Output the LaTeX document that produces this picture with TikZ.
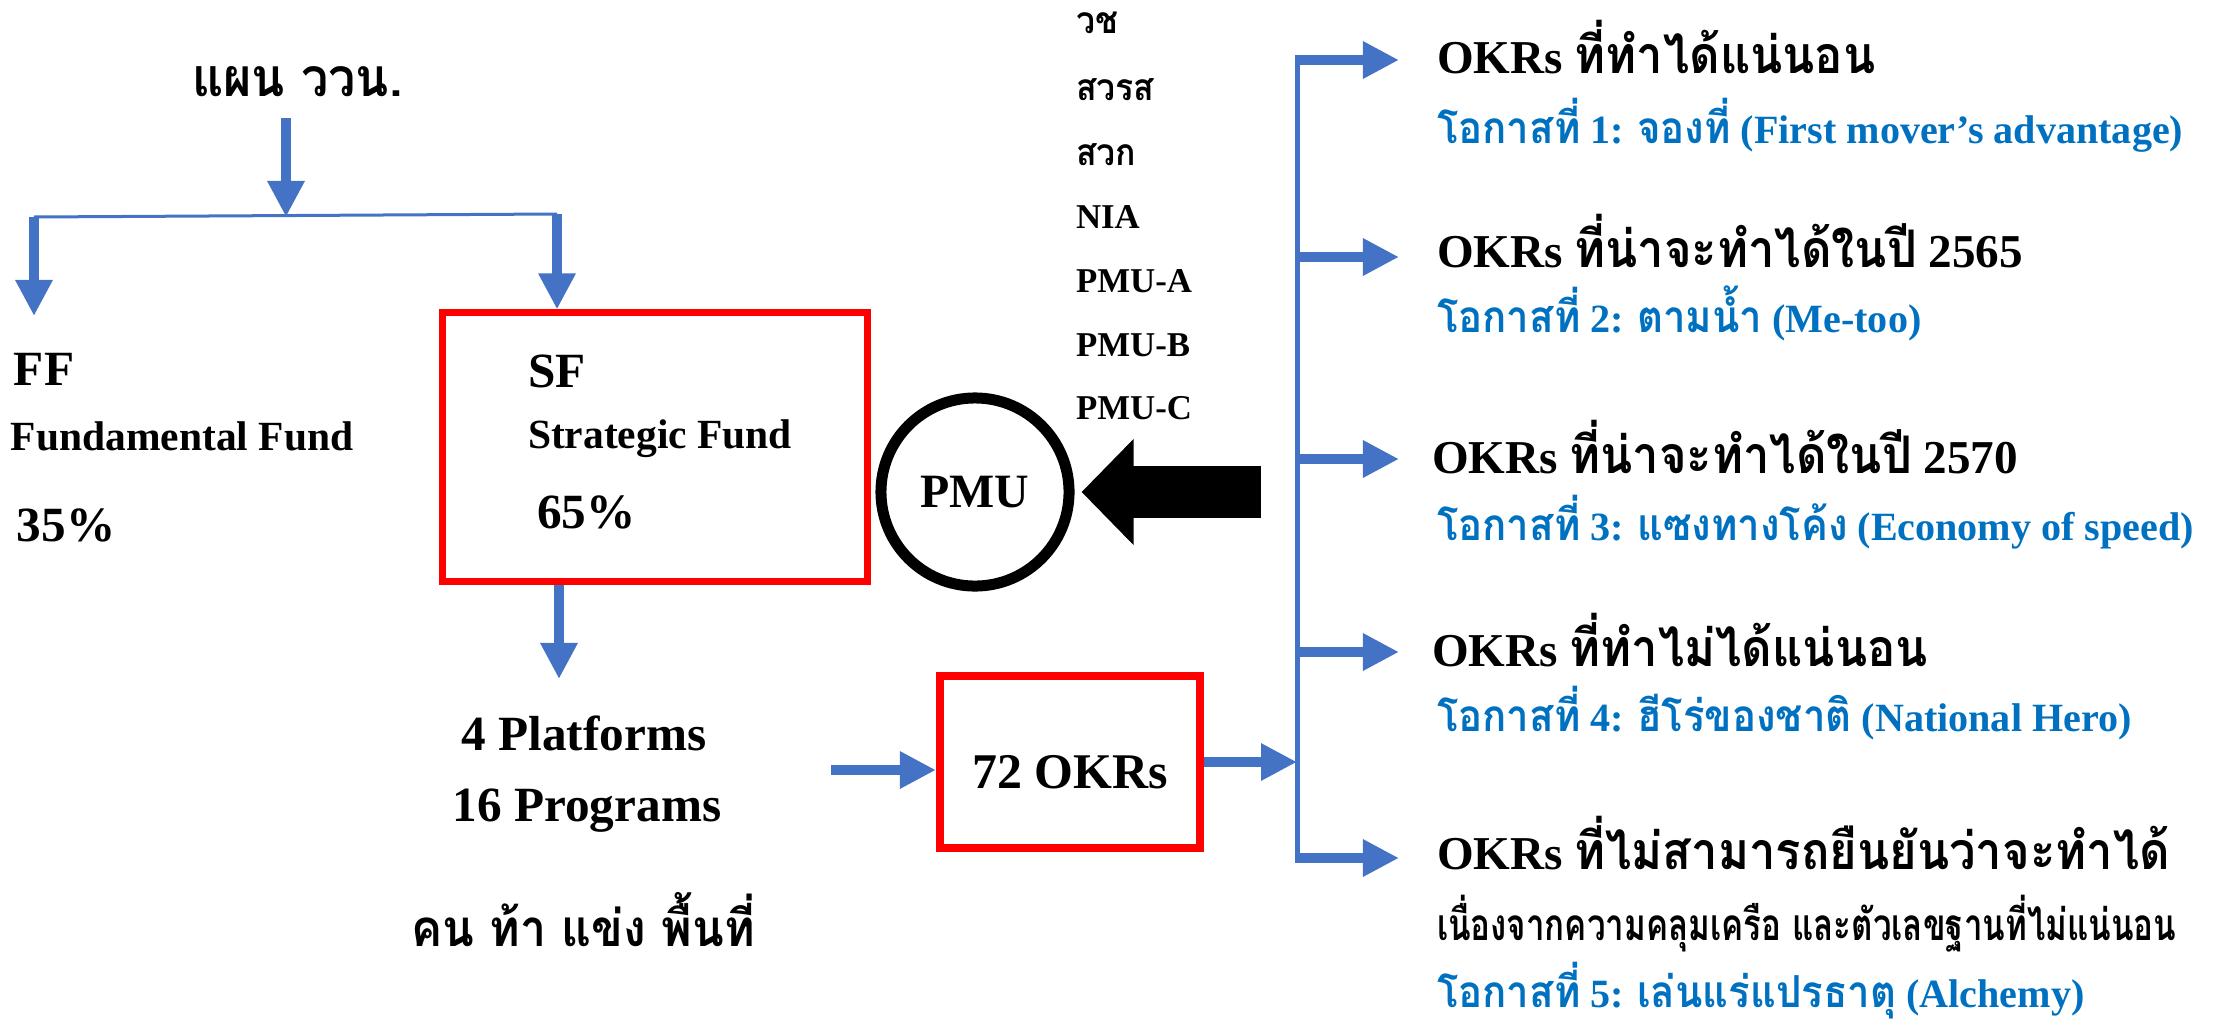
\documentclass[tikz,border=0pt]{standalone}
\usepackage{fontspec}
\setmainfont{Liberation Serif}
\newfontfamily\thaifont[Script=Thai,Scale=1.1,FakeStretch=0.91]{Loma}
\newfontfamily\thaicond[Script=Thai,Scale=1.1,FakeStretch=0.75]{Loma}
\usetikzlibrary{arrows.meta}
\definecolor{okblue}{HTML}{4472C4}
\definecolor{subblue}{HTML}{0070C0}
\definecolor{boxred}{HTML}{FF0000}
\newcommand\thx[1]{{\thaifont #1}}

\begin{document}
\begin{tikzpicture}[x=0.01cm,y=-0.01cm,
    ttl/.style={font=\fontsize{13.4}{16}\selectfont\bfseries},
    sub/.style={font=\fontsize{11.4}{14}\selectfont\bfseries,text=subblue},
    lbl/.style={font=\fontsize{9.9}{12}\selectfont\bfseries},
    tlbl/.style={font=\fontsize{9.6}{12}\selectfont\bfseries},
    big/.style={font=\fontsize{14}{17}\selectfont\bfseries},
    mid/.style={font=\fontsize{11.8}{14}\selectfont\bfseries},
    redbox/.style={draw=boxred,line width=0.8mm,inner sep=0pt},
    bluearrow/.style={draw=okblue,line width=1mm,-{Triangle[length=3.6mm,width=3.5mm]}}]

  \useasboundingbox (0,0) rectangle (2234,1021);

  \begin{scope}[every node/.style={anchor=base west,inner sep=0pt,outer sep=0pt}]
    % left side
    \node[font=\fontsize{13.8}{16}\selectfont\bfseries] (plan) at (192,96) {\thx{แผน ววน.}};
    \node[big] (ff)   at (14,385)  {FF};
    \node[mid] (ffn)  at (11,450)  {Fundamental Fund};
    \node[big] (ffp)  at (17,541)  {35\%};
    \node[big] (sf)   at (528,387) {SF};
    \node[mid] (sfn)  at (528,448) {Strategic Fund};
    \node[big] (sfp)  at (537,528) {65\%};
    \node[big,anchor=base] (plat) at (584,750) {4 Platforms};
    \node[big,anchor=base] (prog) at (587,821) {16 Programs};
    \node[font=\fontsize{13.2}{15}\selectfont\bfseries,anchor=base] (area) at (583,946) {\thx{คน ท้า แข่ง พื้นที่}};
    % agencies
    \node[tlbl] (a1) at (1076,34)  {\thx{วช}};
    \node[tlbl] (a2) at (1076,100) {\thx{สวรส}};
    \node[tlbl] (a3) at (1076,165) {\thx{สวก}};
    \node[lbl] (a4) at (1076,228) {NIA};
    \node[lbl] (a5) at (1076,292) {PMU-A};
    \node[lbl] (a6) at (1076,356) {PMU-B};
    \node[lbl] (a7) at (1076,419) {PMU-C};
    % OKR groups
    \node[ttl] (t1) at (1437,73)  {OKRs \thx{ที่ทำได้แน่นอน}};
    \node[sub] (s1) at (1437,143) {\thx{โอกาสที่} 1: \thx{จองที่} (First mover’s advantage)};
    \node[ttl] (t2) at (1437,267) {OKRs \thx{ที่น่าจะทำได้ในปี} 2565};
    \node[sub] (s2) at (1437,332) {\thx{โอกาสที่} 2: \thx{ตามน้ำ} (Me-too)};
    \node[ttl] (t3) at (1432,473) {OKRs \thx{ที่น่าจะทำได้ในปี} 2570};
    \node[sub] (s3) at (1437,540) {\thx{โอกาสที่} 3: \thx{แซงทางโค้ง} (Economy of speed)};
    \node[ttl] (t4) at (1432,666) {OKRs \thx{ที่ทำไม่ได้แน่นอน}};
    \node[sub] (s4) at (1437,731) {\thx{โอกาสที่} 4: \thx{ฮีโร่ของชาติ} (National Hero)};
    \node[ttl] (t5) at (1437,869) {OKRs \thx{ที่ไม่สามารถยืนยันว่าจะทำได้}};
    \node[font=\fontsize{11.4}{13}\selectfont\bfseries\thaicond] (n5) at (1437,940) {เนื่องจากความคลุมเครือ และตัวเลขฐานที่ไม่แน่นอน};
    \node[sub] (s5) at (1437,1007) {\thx{โอกาสที่} 5: \thx{เล่นแร่แปรธาตุ} (Alchemy)};
  \end{scope}

  % boxes
  \node[redbox,line width=0.7mm,minimum width=4.25cm,minimum height=2.68cm] (sfbox) at (655,447) {};
  \node[redbox,minimum width=2.6cm,minimum height=1.72cm,text height=5.2mm,text depth=0pt,
        font=\fontsize{14.2}{17}\selectfont\bfseries] (okr) at (1070,762) {72 OKRs};
  \node[draw,circle,line width=1.1mm,minimum size=1.88cm,inner sep=0pt,
        font=\fontsize{13.6}{16}\selectfont\bfseries] (pmu) at (975,492) {PMU};

  \coordinate (top)  at (286,118);
  \coordinate (lft)  at (34,217);
  \coordinate (rgt)  at (557,214);
  \coordinate (ffend) at (34,316);
  \coordinate (down) at (559,679);
  \coordinate (inl)  at (831,770);
  \coordinate (tail) at (1261,492);
  \coordinate (bus1) at (1297,55);
  \coordinate (bus2) at (1297,863);
  \coordinate (b1) at (1297,60);
  \coordinate (b2) at (1297,257);
  \coordinate (b3) at (1297,459);
  \coordinate (b4) at (1297,652);
  \coordinate (b5) at (1297,858);

  \draw[okblue,line width=0.3mm] (lft) -- (rgt);
  \draw[okblue,line width=0.5mm] (bus1) -- (bus2);

  \begin{scope}[every edge/.style={bluearrow}]
    \path (top) edge (top |- lft);
    \path (lft) edge[line width=0.9mm] (ffend);
    \path (rgt) edge (rgt |- sfbox.north);
    \path (down |- sfbox.south) edge (down);
    \path (inl) edge (inl -| okr.west);
    \path (okr.east) edge (okr.east -| bus1);
    \path (b1) edge[shorten >=3.8mm] (b1 -| t1.west);
    \path (b2) edge[shorten >=3.8mm] (b2 -| t2.west);
    \path (b3) edge[shorten >=3.3mm] (b3 -| t3.west);
    \path (b4) edge[shorten >=3.3mm] (b4 -| t4.west);
    \path (b5) edge[shorten >=3.8mm] (b5 -| t5.west);
  \end{scope}

  \draw[line width=5.1mm,-{Triangle[length=5.2mm,width=10.3mm]},shorten >=0.7mm] (tail) -- (pmu);

\end{tikzpicture}
\end{document}
